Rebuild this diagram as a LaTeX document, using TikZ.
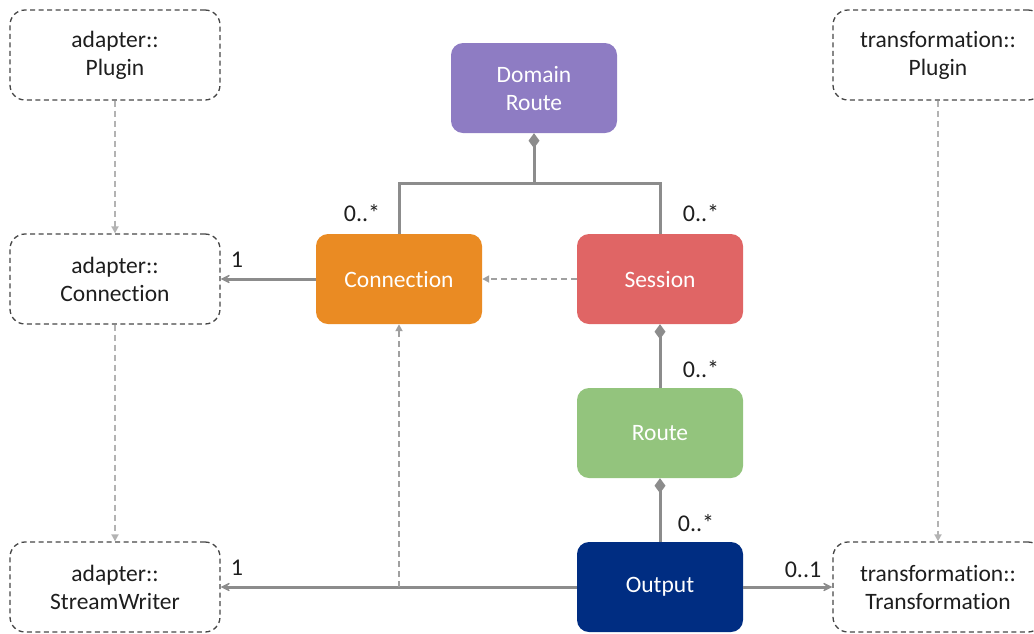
\documentclass[tikz,border=0pt]{standalone}
\usepackage{fontspec}
\setmainfont{Carlito}[Ligatures=NoCommon]
\usetikzlibrary{arrows.meta}
\definecolor{domainpurple}{RGB}{142,124,195}
\definecolor{connorange}{RGB}{234,139,35}
\definecolor{sessionred}{RGB}{224,101,101}
\definecolor{routegreen}{RGB}{147,196,125}
\definecolor{outputblue}{RGB}{0,45,130}
\definecolor{linkgray}{RGB}{140,140,140}
\definecolor{depgray}{RGB}{160,160,160}
\definecolor{extgray}{RGB}{70,70,70}
\definecolor{txtgray}{RGB}{30,30,30}

\begin{document}
\begin{tikzpicture}[x=1pt, y=-1pt,
    box/.style={rounded corners=12pt, minimum width=166pt, minimum height=90pt,
        text=white, align=center, font=\fontsize{23.5}{28}\selectfont},
    ext/.style={draw=extgray, line width=1.3pt, dash pattern=on 5pt off 3.5pt,
        rounded corners=15pt, minimum width=210pt, minimum height=90pt,
        text=txtgray, align=center, font=\fontsize{23.5}{28}\selectfont},
    link/.style={draw=linkgray, line width=3pt},
    dep/.style={draw=depgray, line width=1.8pt, dash pattern=on 6pt off 4pt,
        -{Triangle[length=7pt,width=7pt]}},
    lbl/.style={text=txtgray, font=\fontsize{24}{28}\selectfont}]
    \useasboundingbox (0,0) rectangle (1034,633);
    % classes
    \node[box, fill=domainpurple] (domain) at (534,88) {Domain\\Route};
    \node[box, fill=connorange] (conn) at (399,279) {Connection};
    \node[box, fill=sessionred] (session) at (660,279) {Session};
    \node[box, fill=routegreen] (route) at (660,433) {Route};
    \node[box, fill=outputblue] (output) at (660,587) {Output};
    % external classes
    \node[ext] (aplugin) at (115,55) {adapter::\\Plugin};
    \node[ext] (aconn) at (115,279) {adapter::\\Connection};
    \node[ext] (awriter) at (115,587) {adapter::\\StreamWriter};
    \node[ext] (tplugin) at (938,55) {transformation::\\Plugin};
    \node[ext] (ttrans) at (938,587) {transformation::\\Transformation};
    % composition
    \draw[link, {Diamond[length=15pt,width=11pt]}-] (domain.south) -- ++(0,50) coordinate (fork);
    \draw[link] (conn.north) |- (fork) -| (session.north);
    \draw[link, {Diamond[length=15pt,width=11pt]}-] (session.south) -- (route.north);
    \draw[link, {Diamond[length=15pt,width=11pt]}-] (route.south) -- (output.north);
    % associations
    \draw[link, -{Stealth[length=14pt,width=14pt,inset=9pt]}] (conn.west) -- (aconn.east);
    \draw[link, -{Stealth[length=14pt,width=14pt,inset=9pt]}] (output.west) -- (awriter.east);
    \draw[link, -{Stealth[length=14pt,width=14pt,inset=9pt]}] (output.east) -- (ttrans.west);
    % dependencies
    \coordinate (join) at (conn.south |- output.west);
    \draw[dep] (session.west) -- (conn.east);
    \draw[dep] (join) -- (conn.south);
    \draw[dep, draw=depgray!80] (aplugin.south) -- (aconn.north);
    \draw[dep, draw=depgray!80] (aconn.south) -- (awriter.north);
    \draw[dep, draw=depgray!80] (tplugin.south) -- (ttrans.north);
    % multiplicities
    \node[lbl] (mconn) at (362,213) {0..*};
    \node[lbl] (msession) at (701,213) {0..*};
    \node[lbl] (mroute) at (701,369) {0..*};
    \node[lbl] (moutput) at (696,523) {0..*};
    \node[lbl] (maconn) at (237,260) {1};
    \node[lbl] (mawriter) at (237,568) {1};
    \node[lbl] (mttrans) at (803,570) {0..1};
\end{tikzpicture}
\end{document}
